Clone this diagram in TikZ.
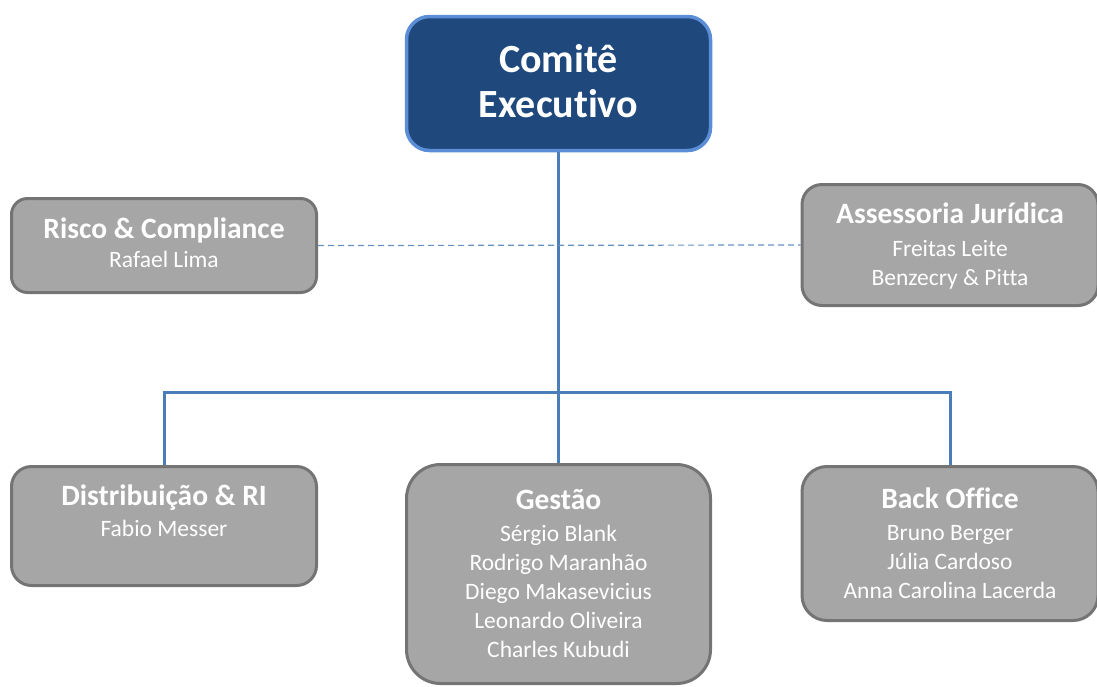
\documentclass[tikz,border=0pt]{standalone}
\usepackage{fontspec}
\setmainfont{Carlito}[Ligatures=NoCommon]
\usetikzlibrary{positioning}

\definecolor{chieffill}{HTML}{1F497D}
\definecolor{chiefedge}{HTML}{5B8ED6}
\definecolor{unitfill}{HTML}{A6A6A6}
\definecolor{unitedge}{HTML}{747474}
\definecolor{linkblue}{HTML}{4A7EBB}

\begin{document}
\begin{tikzpicture}[
        x=1pt, y=-1pt,
        chief/.style={rectangle, draw=chiefedge, fill=chieffill, line width=3.5pt,
            text=white, align=center, font=\fontsize{40}{45}\selectfont\bfseries},
        unit/.style={rectangle, draw=unitedge, fill=unitfill, line width=3pt,
            text=white, align=center, font=\fontsize{23.5}{29}\selectfont},
        link/.style={draw=linkblue, line width=3pt},
        advisory/.style={draw=linkblue!85!white, line width=1.2pt, dash pattern=on 6pt off 4pt}
    ]
    \useasboundingbox (0,0) rectangle (1097,686);

    % Top of the chart
    \node[chief, minimum width=304pt, minimum height=134pt, rounded corners=23pt, text depth=6pt] (comite) at (558.5,83.5)
        {Comitê\\Executivo};

    % Staff boxes
    \node[unit, minimum width=305pt, minimum height=94pt, rounded corners=16pt, text depth=5pt] (risco) at (164,245.5)
        {\textbf{\fontsize{29.5}{33}\selectfont Risco \& Compliance}\\[0pt]Rafael Lima};
    \node[unit, minimum width=296pt, minimum height=121pt, rounded corners=20pt, text depth=1pt] (juridica) at (950,245)
        {\textbf{\fontsize{29.5}{33}\selectfont Assessoria Jurídica}\\[4pt]Freitas Leite\\Benzecry \& Pitta};

    % Areas
    \node[unit, minimum width=305pt, minimum height=119pt, rounded corners=20pt, text depth=31pt] (distrib) at (164,526)
        {\textbf{\fontsize{29.5}{33}\selectfont Distribuição \& RI}\\[2pt]Fabio Messer};
    \node[unit, minimum width=304pt, minimum height=219pt, rounded corners=34pt] (gestao) at (558.5,574)
        {\textbf{\fontsize{29.5}{33}\selectfont Gestão}\\[3pt]Sérgio Blank\\Rodrigo Maranhão\\Diego Makasevicius\\Leonardo Oliveira\\Charles Kubudi};
    \node[unit, minimum width=296pt, minimum height=154pt, rounded corners=25pt] (backoffice) at (950,543.5)
        {\textbf{\fontsize{29.5}{33}\selectfont Back Office}\\[3pt]Bruno Berger\\Júlia Cardoso\\Anna Carolina Lacerda};

    % Reporting lines
    \coordinate (hub) at (558.5,392);
    \draw[link] (comite.south) -- (gestao.north);
    \draw[link] (distrib.north) |- (hub) -| (backoffice.north);

    % Advisory line
    \draw[advisory] (risco.east) -- (juridica.west);

\end{tikzpicture}
\end{document}
